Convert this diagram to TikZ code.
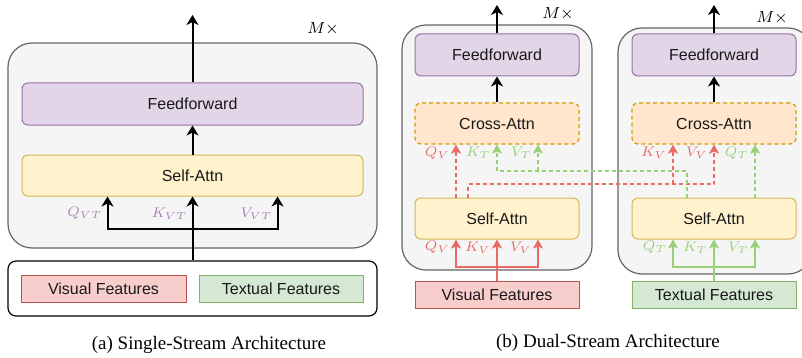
\documentclass[tikz,border=0pt]{standalone}
\usepackage{fontspec}
\setmainfont{Liberation Serif}
\setsansfont{Liberation Sans}
\usepackage{tikz}
\usetikzlibrary{arrows.meta}
\definecolor{boxgray}{HTML}{F5F5F5}
\definecolor{boxline}{HTML}{666666}
\definecolor{fffill}{HTML}{E1D5E7}
\definecolor{ffline}{HTML}{9673A6}
\definecolor{safill}{HTML}{FFF2CC}
\definecolor{saline}{HTML}{D6B656}
\definecolor{cafill}{HTML}{FFE6CC}
\definecolor{caline}{HTML}{D79B00}
\definecolor{visfill}{HTML}{F8CECC}
\definecolor{visline}{HTML}{B85450}
\definecolor{txtfill}{HTML}{D5E8D4}
\definecolor{txtline}{HTML}{82B366}
\definecolor{redarr}{HTML}{EA6B66}
\definecolor{greenarr}{HTML}{97D077}
\definecolor{purplbl}{HTML}{A680B8}
\tikzset{
>={Stealth[length=5pt,width=6pt,inset=1.5pt]}, % bold arrow heads
block/.style={rounded corners=3pt, inner sep=0pt, line width=0.5pt,
  font=\sffamily\fontsize{8}{9}\selectfont, text=black!90},
ffbox/.style={block, draw=ffline, fill=fffill, minimum height=21pt},
sabox/.style={block, draw=saline, fill=safill, minimum height=20.5pt},
cabox/.style={block, draw=caline, fill=cafill, minimum height=20.5pt,
  dash pattern=on 2pt off 1.5pt, line width=0.6pt},
featbox/.style={block, rounded corners=0pt, minimum height=13.5pt, minimum width=82pt},
visbox/.style={featbox, draw=visline, fill=visfill},
txtbox/.style={featbox, draw=txtline, fill=txtfill},
stack/.style={draw=boxline, fill=boxgray, line width=0.6pt, rounded corners=12pt},
blk/.style={line width=1pt, black}, % black arrows
redl/.style={line width=0.8pt, redarr, -{Stealth[length=4.5pt,width=5pt,inset=1pt]}},
greenl/.style={line width=0.8pt, greenarr, -{Stealth[length=4.5pt,width=5pt,inset=1pt]}},
redd/.style={redl, dash pattern=on 2pt off 1.5pt},
greend/.style={greenl, dash pattern=on 2pt off 1.5pt},
lbl/.style={inner sep=0pt, anchor=east, font=\fontsize{7.5}{8}\selectfont},
captxt/.style={font=\fontsize{9.5}{11}\selectfont},
}
\begin{document}
\begin{tikzpicture}[x=0.5pt, y=-0.5pt]
  \path[use as bounding box, clip] (0,0) rectangle (802,358);

  % (a) single stream
  \draw[stack] (8,43) rectangle (377,248);
  \node[inner sep=0pt, font=\fontsize{8}{9}\selectfont] (m1) at (323,29) {$M\times$};
  \node[ffbox, minimum width=170.5pt] (ff1) at (192.5,104) {Feedforward};
  \node[sabox, minimum width=170.5pt] (sa1) at (192.5,175.5) {Self-Attn};
  \node[draw, line width=0.6pt, rounded corners=4pt, minimum width=184.5pt, minimum height=27.5pt] (in1) at (192.5,288.5) {};
  \node[visbox, minimum width=82.5pt] (vis1) at (103.5,288.5) {Visual Features};
  \node[txtbox] (txt1) at (281,288.5) {Textual Features};
  \coordinate (out1) at (192.5,15);
  \coordinate (bus1) at (192.5,229);

  \draw[blk,->] (ff1.north) -- (out1);
  \draw[blk,->] (sa1.north) -- (ff1.south);
  \draw[blk,->] (in1.north) -- (sa1.south);
  \draw[blk,->] (bus1) -| ([xshift=-42.5pt]sa1.south);
  \draw[blk,->] (bus1) -| ([xshift=42.5pt]sa1.south);
  \node[lbl, text=purplbl] (qvt) at ([xshift=-45pt,yshift=-8.5pt]sa1.south) {$Q_{VT}$};
  \node[lbl, text=purplbl] (kvt) at ([xshift=-2.5pt,yshift=-8.5pt]sa1.south) {$K_{VT}$};
  \node[lbl, text=purplbl] (vvt) at ([xshift=40pt,yshift=-8.5pt]sa1.south) {$V_{VT}$};

  \node[captxt] (capa) at (209,345) {(a) Single-Stream Architecture};

  % (b) dual stream
  \draw[stack] (402,25) rectangle (592,270);
  \draw[stack] (618,28) rectangle (812,274);
  \node[inner sep=0pt, font=\fontsize{8}{9}\selectfont] (m2) at (558,14) {$M\times$};
  \node[inner sep=0pt, font=\fontsize{8}{9}\selectfont] (m3) at (772,18) {$M\times$};

  \node[ffbox, minimum width=82pt] (ff2) at (497,55) {Feedforward};
  \node[ffbox, minimum width=82pt] (ff3) at (714,55) {Feedforward};
  \node[cabox, minimum width=82pt] (ca2) at (497,123.5) {Cross-Attn};
  \node[cabox, minimum width=82pt] (ca3) at (714,123.5) {Cross-Attn};
  \node[sabox, minimum width=82pt] (sa2) at (497,218.5) {Self-Attn};
  \node[sabox, minimum width=82pt] (sa3) at (714,218.5) {Self-Attn};
  \node[visbox] (vis2) at (497,294.5) {Visual Features};
  \node[txtbox] (txt3) at (714,294.5) {Textual Features};
  \coordinate (out2) at (497,5);
  \coordinate (out3) at (714,5);
  \coordinate (bus2) at (497,267);
  \coordinate (bus3) at (714,267);
  \coordinate (rbus) at (673,184);
  \coordinate (gbus) at (538,171);

  \draw[blk,->] (ff2.north) -- (out2);
  \draw[blk,->] (ff3.north) -- (out3);
  \draw[blk,->] (ca2.north) -- (ff2.south);
  \draw[blk,->] (ca3.north) -- (ff3.south);

  % inputs to self-attention
  \draw[redl] (vis2.north) -- (sa2.south);
  \draw[redl] (bus2) -| ([xshift=-20.5pt]sa2.south);
  \draw[redl] (bus2) -| ([xshift=20.5pt]sa2.south);
  \draw[greenl] (txt3.north) -- (sa3.south);
  \draw[greenl] (bus3) -| ([xshift=-20.5pt]sa3.south);
  \draw[greenl] (bus3) -| ([xshift=20.5pt]sa3.south);
  \node[lbl, text=redarr] (qv1) at ([xshift=-23.5pt,yshift=-4pt]sa2.south) {$Q_V$};
  \node[lbl, text=redarr] (kv1) at ([xshift=-3pt,yshift=-4pt]sa2.south) {$K_V$};
  \node[lbl, text=redarr] (vv1) at ([xshift=17.5pt,yshift=-4pt]sa2.south) {$V_V$};
  \node[lbl, text=greenarr] (qt1) at ([xshift=-23.5pt,yshift=-4pt]sa3.south) {$Q_T$};
  \node[lbl, text=greenarr] (kt1) at ([xshift=-3pt,yshift=-4pt]sa3.south) {$K_T$};
  \node[lbl, text=greenarr] (vt1) at ([xshift=17.5pt,yshift=-4pt]sa3.south) {$V_T$};

  % cross connections
  \draw[redd] ([xshift=-20.5pt]sa2.north) -- ([xshift=-20.5pt]ca2.south);
  \draw[redd] ([xshift=-14.5pt]sa2.north) |- (rbus) -| (ca3.south);
  \draw[redd] (rbus) -- ([xshift=-20.5pt]ca3.south);
  \draw[greend] ([xshift=-13.5pt]sa3.north) |- (gbus) -| (ca2.south);
  \draw[greend] (gbus) -- ([xshift=20.5pt]ca2.south);
  \draw[greend] ([xshift=20.5pt]sa3.north) -- ([xshift=20.5pt]ca3.south);
  \node[lbl, text=redarr] (qv2) at ([xshift=-23.5pt,yshift=-4pt]ca2.south) {$Q_V$};
  \node[lbl, text=greenarr] (kt2) at ([xshift=-3pt,yshift=-4pt]ca2.south) {$K_T$};
  \node[lbl, text=greenarr] (vt2) at ([xshift=17.5pt,yshift=-4pt]ca2.south) {$V_T$};
  \node[lbl, text=redarr] (kv2) at ([xshift=-23.5pt,yshift=-4pt]ca3.south) {$K_V$};
  \node[lbl, text=redarr] (vv2) at ([xshift=-3pt,yshift=-4pt]ca3.south) {$V_V$};
  \node[lbl, text=greenarr] (qt2) at ([xshift=17.5pt,yshift=-4pt]ca3.south) {$Q_T$};

  \node[captxt] (capb) at (608,343) {(b) Dual-Stream Architecture};
\end{tikzpicture}
\end{document}
